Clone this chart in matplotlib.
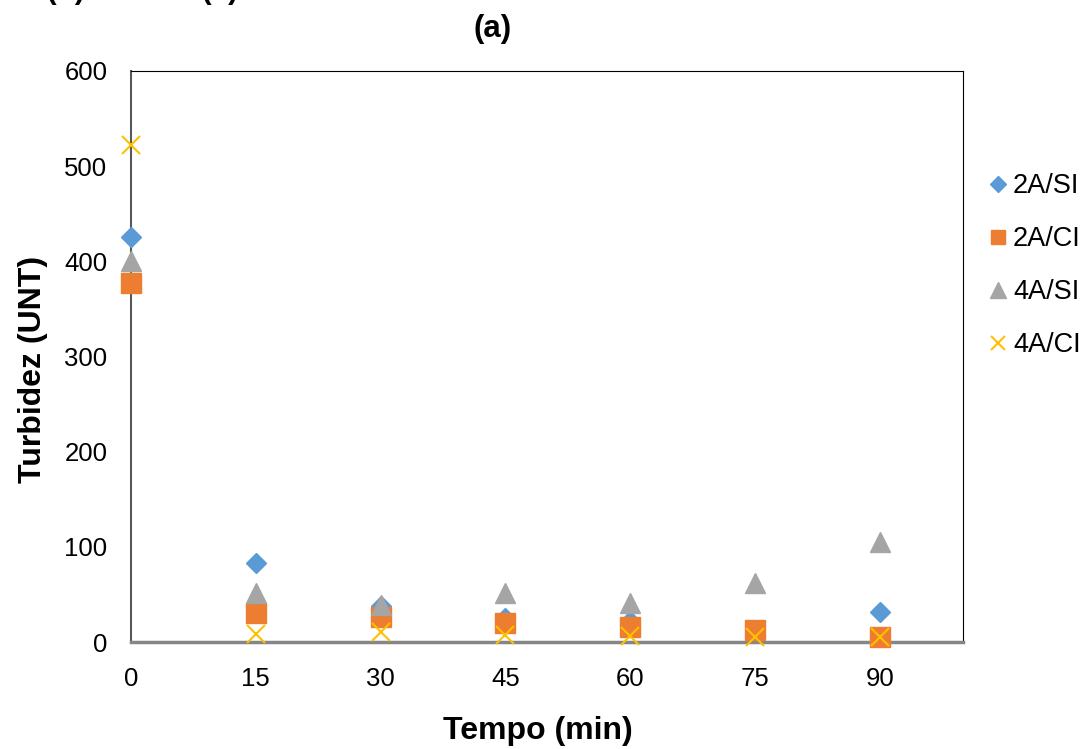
import matplotlib
matplotlib.use("Agg")
import matplotlib.pyplot as plt

plt.rcParams['font.family'] = ['Liberation Sans', 'DejaVu Sans']

tempo = [0, 15, 30, 45, 60, 75, 90]
s_2a_si = [426, 83, 38, 25, 22, 13, 31]
s_2a_ci = [377, 30, 26, 20, 16, 13, 5]
s_4a_si = [400, 52, 39, 52, 41, 62, 105]
s_4a_ci = [522, 8, 11, 7, 6, 5, 5]
x_ticks = [0, 15, 30, 45, 60, 75, 90]
y_ticks = [0, 100, 200, 300, 400, 500, 600]

W, H = 1091, 749
fig = plt.figure(figsize=(W/100, H/100), dpi=100)
ax = fig.add_axes([131/W, 1-642/H, (963-131)/W, (642-71)/H])

ax.plot(tempo, s_2a_si, linestyle='none', marker='D', ms=10.5, color='#5B9BD5', label='2A/SI', zorder=3, clip_on=False)
ax.plot(tempo, s_2a_ci, linestyle='none', marker='s', ms=14, color='#ED7D31', label='2A/CI', zorder=4, clip_on=False)
ax.plot(tempo, s_4a_si, linestyle='none', marker='^', ms=15, color='#A5A5A5', label='4A/SI', zorder=5, clip_on=False)
ax.plot(tempo, s_4a_ci, linestyle='none', marker='x', ms=13, mew=1.5, color='#FFC000', label='4A/CI', zorder=6, clip_on=False)

ax.set_xlim(0, 100)
ax.set_ylim(0, 600)
ax.set_xticks(x_ticks)
ax.set_yticks(y_ticks)
ax.tick_params(axis='both', length=0, labelsize=18.5)
ax.tick_params(axis='x', pad=18)
ax.tick_params(axis='y', pad=17)
for s in ['top', 'right']:
    ax.spines[s].set_color('black')
    ax.spines[s].set_linewidth(0.8)
ax.spines['left'].set_color('#595959')
ax.spines['left'].set_linewidth(1.5)
ax.spines['bottom'].set_color('#868686')
ax.spines['bottom'].set_linewidth(2.5)
for sp in ax.spines.values():
    sp.set_zorder(2)

fig.text(538/W, 1-731/H, 'Tempo (min)', ha='center', va='center', fontsize=23, fontweight='bold')
fig.text(33/W, 1-369/H, 'Turbidez (UNT)', ha='center', va='center', rotation=90, fontsize=23, fontweight='bold')

fig.text(493/W, 1-29/H, '(a)', ha='center', va='center', fontsize=22.5, fontweight='bold')
fig.text(22/W, 1+1/H, 'e (b) e Teste (c)', ha='left', va='baseline', fontsize=21.5, fontweight='bold')

leg = fig.legend(loc='upper left', bbox_to_anchor=(990/W, 1-173/H), frameon=False,
                 fontsize=19.5, handlelength=0.6, handletextpad=0.25, labelspacing=1.0,
                 borderaxespad=0, borderpad=0, markerscale=0.75)

fig.savefig('out.png', dpi=100)
